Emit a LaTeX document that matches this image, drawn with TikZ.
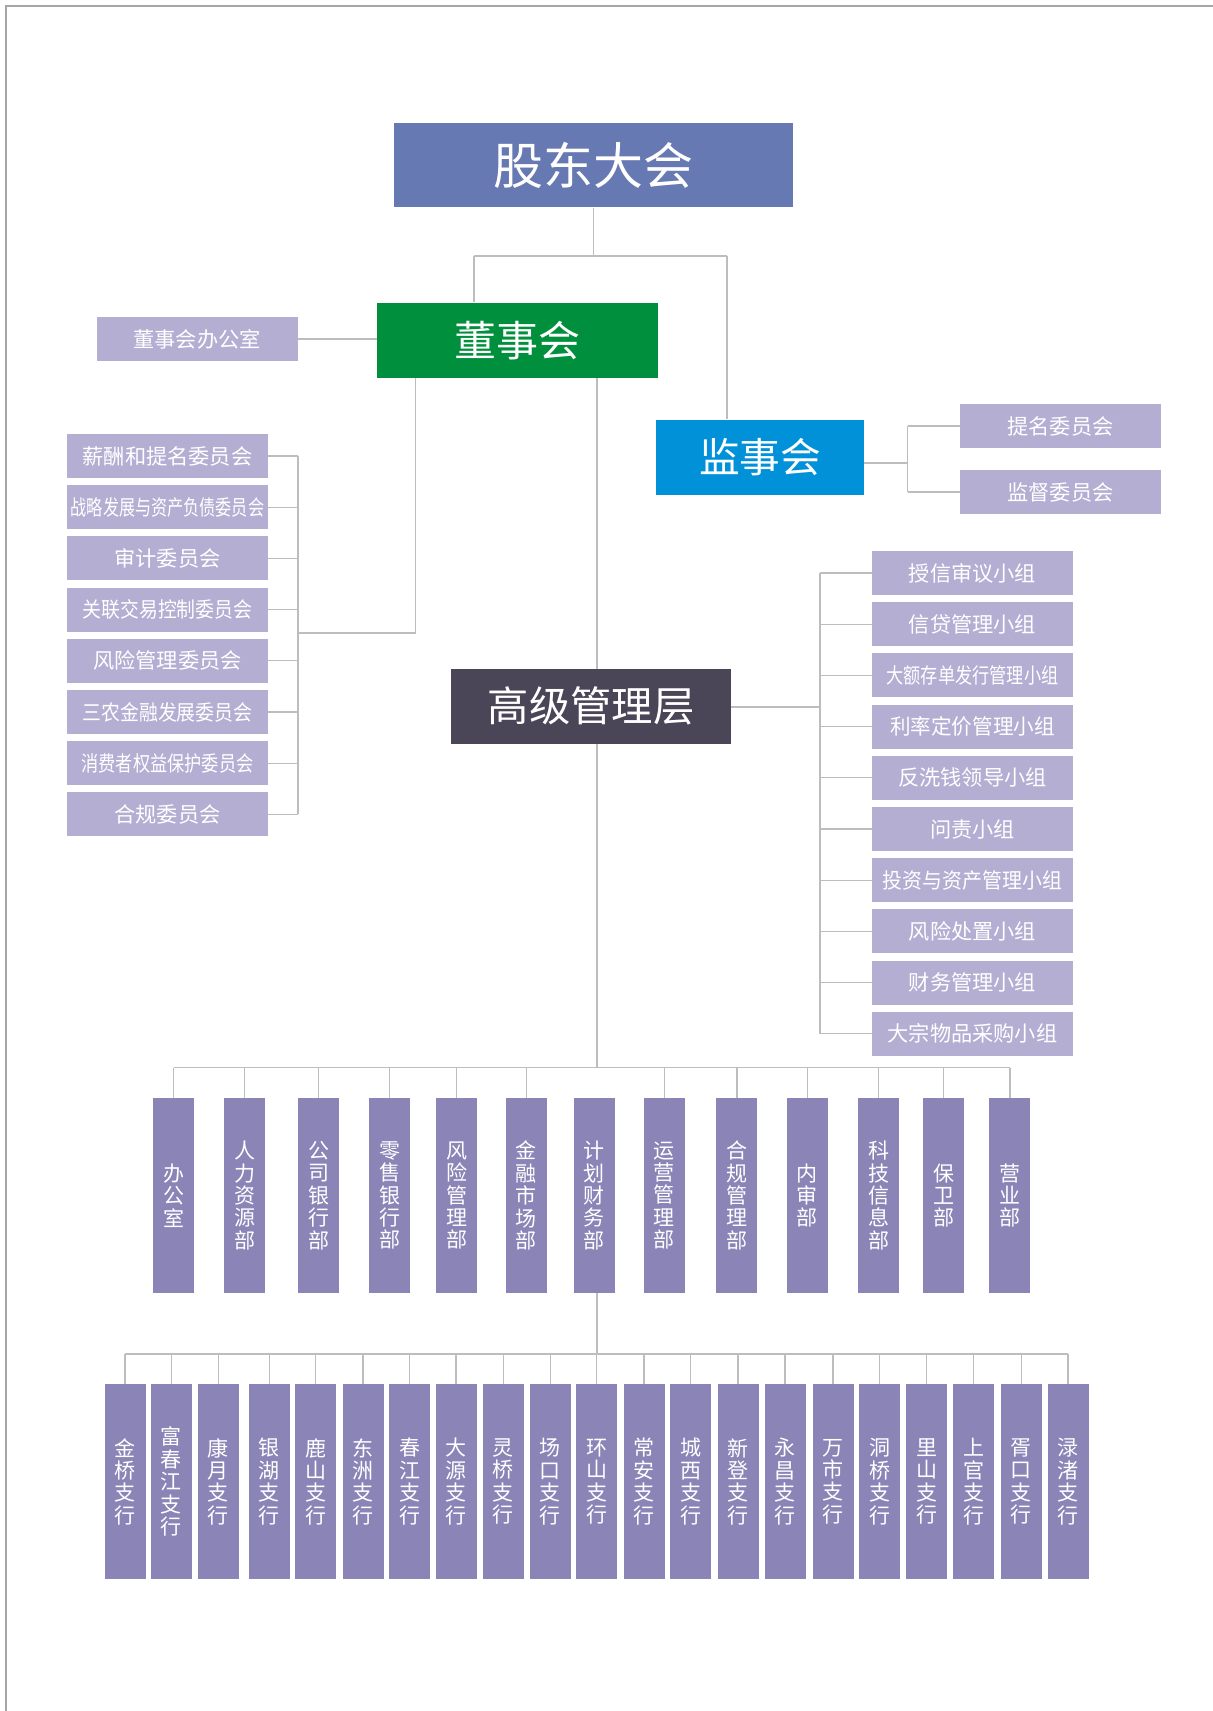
\documentclass[tikz,border=0pt]{standalone}
\usepackage{fontspec}
\usepackage{graphicx}
\newfontfamily\cjk{Noto Sans CJK SC}
\definecolor{cGD}{HTML}{6679B3}
\definecolor{cDSH}{HTML}{008F3C}
\definecolor{cJSH}{HTML}{0091D9}
\definecolor{cGJ}{HTML}{4A4658}
\definecolor{cLav}{HTML}{B4AED3}
\definecolor{cDept}{HTML}{8B84B7}
\definecolor{cLine}{HTML}{BDBDBD}
\definecolor{cFrame}{HTML}{A6A6A6}
\pgfdeclarelayer{back}
\pgfdeclarelayer{bg}
\pgfsetlayers{back,bg,main}
\newcommand\hsq[2]{\scalebox{#1}[1]{#2}}
\begin{document}
\begin{tikzpicture}[x=0.75pt,y=-0.75pt,
  conn/.style={draw=cLine, line width=0.9pt},
  bx/.style={rectangle, inner sep=0pt, text=white},
  sm/.style={bx, fill=cLav, minimum width=150.75pt, minimum height=33pt,
     font={\cjk\fontsize{15.9pt}{18pt}\selectfont}},
  vt/.style={bx, fill=cDept, minimum width=30.75pt, minimum height=146.25pt,
     align=center, font={\cjk\fontsize{15.75pt}{16.8pt}\selectfont}},
]
\useasboundingbox (0,0) rectangle (1213,1711);
\begin{pgfonlayer}{back}
\fill[white] (0,0) rectangle (1213,1711);
\draw[cFrame, line width=1.2pt] (6,1711) -- (6,6) -- (1213,6);
\end{pgfonlayer}

% top level
\node[bx, fill=cGD, minimum width=299.25pt, minimum height=63pt,
  font={\cjk\fontsize{37.5pt}{40pt}\selectfont}] (gd) at (593.5,165.3) {股东大会};
\node[bx, fill=cDSH, minimum width=210.4pt, minimum height=56.25pt,
  font={\cjk\fontsize{31.5pt}{34pt}\selectfont}] (dsh) at (517.75,340.2) {董事会\hspace{13pt}};
\node[bx, fill=cJSH, minimum width=156pt, minimum height=56.25pt,
  font={\cjk\fontsize{30.5pt}{33pt}\selectfont}] (jsh) at (760,457) {监事会};
\node[bx, fill=cGJ, minimum width=210pt, minimum height=56.25pt,
  font={\cjk\fontsize{31pt}{34pt}\selectfont}] (gj) at (591,706) {高级管理层\hspace{10pt}};

\node[sm] (bgs) at (197,339) {董事会办公室};
\node[sm] (tm) at (1060.5,426) {提名委员会};
\node[sm] (jd) at (1060.5,492) {监督委员会};

% board committees
\node[sm] (L1) at (167.5,456)   {薪酬和提名委员会};
\node[sm] (L2) at (167.5,507.2) {\hsq{0.76}{战略发展与资产负债委员会}};
\node[sm] (L3) at (167.5,558.4) {审计委员会};
\node[sm] (L4) at (167.5,609.6) {\hsq{0.89}{关联交易控制委员会}};
\node[sm] (L5) at (167.5,660.8) {风险管理委员会};
\node[sm] (L6) at (167.5,712)   {\hsq{0.89}{三农金融发展委员会}};
\node[sm] (L7) at (167.5,763.2) {\hsq{0.81}{消费者权益保护委员会}};
\node[sm] (L8) at (167.5,814.4) {合规委员会};

% management groups
\node[sm] (R1) at (972.5,573)    {授信审议小组};
\node[sm] (R2) at (972.5,624.2)  {信贷管理小组};
\node[sm] (R3) at (972.5,675.4)  {\hsq{0.81}{大额存单发行管理小组}};
\node[sm] (R4) at (972.5,726.6)  {\hsq{0.97}{利率定价管理小组}};
\node[sm] (R5) at (972.5,777.8)  {反洗钱领导小组};
\node[sm] (R6) at (972.5,829)    {问责小组\hspace{18pt}};
\node[sm] (R7) at (972.5,880.2)  {\hsq{0.94}{投资与资产管理小组}};
\node[sm] (R8) at (972.5,931.4)  {风险处置小组};
\node[sm] (R9) at (972.5,982.6)  {财务管理小组};
\node[sm] (R10) at (972.5,1033.8) {大宗物品采购小组};

% departments
\foreach \i/\xx/\t in {
  1/173.7/{办\\公\\室},
  2/244.7/{人\\力\\资\\源\\部},
  3/318.8/{公\\司\\银\\行\\部},
  4/389.5/{零\\售\\银\\行\\部},
  5/456.7/{风\\险\\管\\理\\部},
  6/526.4/{金\\融\\市\\场\\部},
  7/594/{计\\划\\财\\务\\部},
  8/664.1/{运\\营\\管\\理\\部},
  9/736.9/{合\\规\\管\\理\\部},
  10/807.3/{内\\审\\部},
  11/878.5/{科\\技\\信\\息\\部},
  12/943.5/{保\\卫\\部},
  13/1009.9/{营\\业\\部}}
  {\node[vt] (D\i) at (\xx,1195.5) {\t};}

% branches
\foreach \i/\xx/\t in {
  1/125/{金\\桥\\支\\行},
  2/171.2/{富\\春\\江\\支\\行},
  3/218.3/{康\\月\\支\\行},
  4/269.3/{银\\湖\\支\\行},
  5/315.5/{鹿\\山\\支\\行},
  6/363/{东\\洲\\支\\行},
  7/409.7/{春\\江\\支\\行},
  8/456/{大\\源\\支\\行},
  9/503.3/{灵\\桥\\支\\行},
  10/550.3/{场\\口\\支\\行},
  11/596.8/{环\\山\\支\\行},
  12/644/{常\\安\\支\\行},
  13/690.5/{城\\西\\支\\行},
  14/738/{新\\登\\支\\行},
  15/785/{永\\昌\\支\\行},
  16/833/{万\\市\\支\\行},
  17/879.6/{洞\\桥\\支\\行},
  18/926.7/{里\\山\\支\\行},
  19/973.8/{上\\官\\支\\行},
  20/1021.3/{胥\\口\\支\\行},
  21/1068/{渌\\渚\\支\\行}}
  {\node[vt] (B\i) at (\xx,1481.6) {\t};}

% connectors
\coordinate (jL) at (474,256);
\coordinate (jR) at (727,256);
\coordinate (ld) at (415.4,633);
\coordinate (lb) at (298,633);
\coordinate (jb) at (907.6,463);
\coordinate (rb) at (820,707);
\coordinate (bus1) at (597,1067.5);
\coordinate (bus2) at (597,1354);

\begin{pgfonlayer}{bg}
\draw[conn] (gd.south) -- (gd.south |- jL);
\draw[conn] (jL) -- (jR);
\draw[conn] (jL) -- (jL |- dsh.north);
\draw[conn] (jR) -- (jR |- jsh.north);
\draw[conn] (bgs.east) -- (bgs.east -| dsh.west);
% board committees bracket
\draw[conn] (dsh.south -| ld) -- (ld) -- (lb);
\draw[conn] (L1.east -| lb) -- (L8.east -| lb);
\foreach \k in {1,...,8} {\draw[conn] (L\k.east) -- (L\k.east -| lb);}
% supervisory committees
\draw[conn] (jsh.east |- jb) -- (jb);
\draw[conn] (tm.west -| jb) -- (jd.west -| jb);
\draw[conn] (tm.west) -- (tm.west -| jb);
\draw[conn] (jd.west) -- (jd.west -| jb);
% management groups
\draw[conn] (gj.east |- rb) -- (rb);
\draw[conn] (R1.west -| rb) -- (R10.west -| rb);
\foreach \k in {1,...,10} {\draw[conn] (R\k.west) -- (R\k.west -| rb);}
% trunk
\draw[conn] (dsh.south -| bus1) -- (bus1);
\draw[conn] (D1.north |- bus1) -- (D13.north |- bus1);
\foreach \k in {1,...,6,8,9,10,11,12,13} {\draw[conn] (D\k.north) -- (D\k.north |- bus1);}
\draw[conn] (D7.south -| bus2) -- (bus2);
\draw[conn] (B1.north |- bus2) -- (B21.north |- bus2);
\foreach \k in {1,...,21} {\draw[conn] (B\k.north) -- (B\k.north |- bus2);}
\end{pgfonlayer}
\end{tikzpicture}
\end{document}
